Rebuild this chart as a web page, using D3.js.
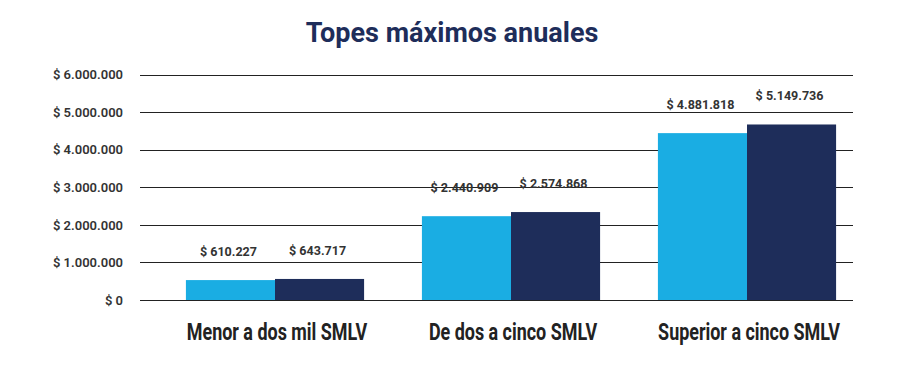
<!DOCTYPE html>
<html>
<head>
<meta charset="utf-8">
<script src="https://cdn.jsdelivr.net/npm/d3@7"></script>
<style>
  body { margin: 0; background: #fff; }
  svg { display: block; font-family: Roboto, "Noto Sans", sans-serif; }
</style>
</head>
<body>
<svg id="chart" width="900" height="368"></svg>
<script>
// datos de la grafica
const categorias = ['Menor a dos mil SMLV', 'De dos a cinco SMLV', 'Superior a cinco SMLV'];
const series = ['anterior', 'actual'];
// altura de las barras tal como se ve en la imagen
const barrasAnterior = [530000, 2230000, 4440000];
const barrasActual = [560000, 2340000, 4670000];
// textos encima de las barras
const etiquetasAnterior = ['$ 610.227', '$ 2.440.909', '$ 4.881.818'];
const etiquetasActual = ['$ 643.717', '$ 2.574.868', '$ 5.149.736'];
const ticks = [0, 1000000, 2000000, 3000000, 4000000, 5000000, 6000000];

const colores = ['#1aade3', '#1e2d5a'];

const svg = d3.select('#chart');

const margin = {left: 140, right: 47};

const y = d3.scaleLinear()
  .domain([0, 6000000])
  .range([300, 74.5]);

const x0 = d3.scaleBand()
  .domain(categorias)
  .range([157, 865])
  .paddingInner(0.245)
  .paddingOuter(0.1225);

const x1 = d3.scaleBand()
  .domain(series)
  .range([0, x0.bandwidth()]);

// formato $ 1.000.000
const fmt = d => '$ ' + d3.format(',')(d).replace(/,/g, '.');

// titulo
svg.append('text')
  .attr('x', 452)
  .attr('y', 42)
  .attr('text-anchor', 'middle')
  .attr('fill', '#1e2d5a')
  .style('font-size', '27px')
  .style('font-weight', 700)
  .text('Topes máximos anuales');

// lineas de la cuadricula + labels eje y
const yAxis = d3.axisLeft(y)
  .tickValues(ticks)
  .tickSize(-(853 - margin.left))
  .tickFormat(fmt)
  .tickPadding(17);

const gy = svg.append('g')
  .attr('transform', `translate(${margin.left},0)`)
  .call(yAxis);

gy.select('.domain').remove();
gy.selectAll('.tick line')
  .attr('stroke', '#222')
  .attr('stroke-width', 1)
  .attr('shape-rendering', 'crispEdges');
gy.selectAll('.tick text')
  .attr('fill', '#333')
  .style('font-size', '13px')
  .style('font-weight', 600)
  .style('font-family', 'Roboto, sans-serif');

// barras
const filas = categorias.map((c, i) => ({
  cat: c,
  valores: [
    {serie: series[0], v: barrasAnterior[i], label: etiquetasAnterior[i]},
    {serie: series[1], v: barrasActual[i], label: etiquetasActual[i]}
  ]
}));

const grupos = svg.append('g').selectAll('g')
  .data(filas)
  .enter().append('g')
  .attr('transform', d => `translate(${x0(d.cat)},0)`);

grupos.selectAll('rect')
  .data(d => d.valores)
  .enter().append('rect')
  .attr('x', d => x1(d.serie))
  .attr('y', d => y(d.v))
  .attr('width', x1.bandwidth())
  .attr('height', d => y(0) - y(d.v))
  .attr('fill', (d, i) => colores[i]);

// etiquetas de valor (letra un poco condensada como en el original)
grupos.selectAll('text')
  .data(d => d.valores)
  .enter().append('text')
  .attr('transform', d => `translate(${x1(d.serie) + x1.bandwidth() / 2 - 2},${y(d.v) - 24}) scale(0.93,1)`)
  .attr('text-anchor', 'middle')
  .attr('fill', '#333')
  .style('font-size', '13.5px')
  .style('font-weight', 700)
  .text(d => d.label);

// linea base encima de las barras
svg.append('line')
  .attr('x1', margin.left)
  .attr('x2', 853)
  .attr('y1', y(0))
  .attr('y2', y(0))
  .attr('stroke', '#222')
  .attr('shape-rendering', 'crispEdges');

// categorias eje x, condensadas
svg.append('g').selectAll('text')
  .data(categorias)
  .enter().append('text')
  .attr('transform', d => `translate(${x0(d) + x0.bandwidth() / 2 + 2},340) scale(0.78,1)`)
  .attr('text-anchor', 'middle')
  .attr('fill', '#222')
  .style('font-size', '23px')
  .style('font-weight', 700)
  .text(d => d);
</script>
</body>
</html>
